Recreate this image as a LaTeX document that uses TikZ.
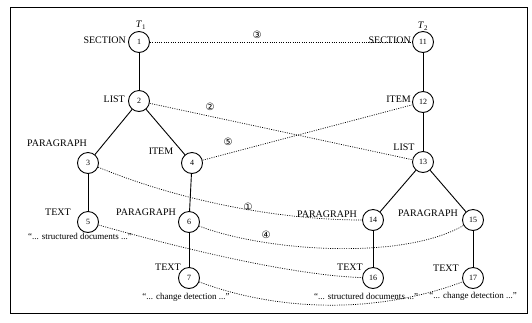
\documentclass[tikz,border=0pt]{standalone}
\usepackage{fontspec}
\setmainfont{Liberation Serif}
\newfontfamily\dejavu{DejaVu Sans}
\begin{document}
\begin{tikzpicture}[x=1pt,y=-1pt,
  tn/.style={circle,draw,line width=0.9pt,minimum size=21pt,inner sep=0pt,font=\fontsize{8}{8}\selectfont},
  lbl/.style={font=\fontsize{10}{10}\selectfont,inner sep=0pt},
  qt/.style={font=\fontsize{9}{10}\selectfont,inner sep=0pt},
  tree/.style={line width=0.9pt},
  match/.style={line width=0.7pt,dash pattern=on 1pt off 1.3pt},
  cn/.style={font=\dejavu\fontsize{10}{10}\selectfont,inner sep=0pt}]
\useasboundingbox (0,0) rectangle (532,322);
\draw[line width=0.8pt] (10,7) rectangle (527,313);
% tree T1
\node[tn] (n1) at (139,42) {1};
\node[tn] (n2) at (139,101) {2};
\node[tn] (n3) at (88,163) {3};
\node[tn] (n4) at (192,163) {4};
\node[tn] (n5) at (88,222) {5};
\node[tn] (n6) at (189,222) {6};
\node[tn] (n7) at (189,278) {7};
% tree T2
\node[tn] (n11) at (423,42) {11};
\node[tn] (n12) at (423,102) {12};
\node[tn] (n13) at (423,162) {13};
\node[tn] (n14) at (373,220) {14};
\node[tn] (n15) at (473,220) {15};
\node[tn] (n16) at (373,278) {16};
\node[tn] (n17) at (473,278) {17};
% labels
\node[lbl] (t1) at (141,25) {\textit{T}\textsubscript{1}};
\node[lbl] (t2) at (423,26) {\textit{T}\textsubscript{2}};
\node[lbl,anchor=east] (l1) at (126,40) {SECTION};
\node[lbl,anchor=east] (l2) at (125,99) {LIST};
\node[lbl] (l3) at (57,143) {PARAGRAPH};
\node[lbl] (l4) at (161,151) {ITEM};
\node[lbl] (l5) at (58,212) {TEXT};
\node[lbl] (l6) at (146,212) {PARAGRAPH};
\node[lbl] (l7) at (168,267) {TEXT};
\node[lbl,anchor=east] (l11) at (411,40) {SECTION};
\node[lbl,anchor=east] (l12) at (411,99) {ITEM};
\node[lbl] (l13) at (404,147) {LIST};
\node[lbl] (l14) at (327,214) {PARAGRAPH};
\node[lbl] (l15) at (428,213) {PARAGRAPH};
\node[lbl] (l16) at (350,267) {TEXT};
\node[lbl] (l17) at (446,268) {TEXT};
% quoted texts
\node[qt] (q5) at (80,236) {“... structured documents ...”};
\node[qt] (q7) at (186,297) {“... change detection ...”};
\node[qt] (q16) at (366,296) {“... structured documents ...”};
\node[qt] (q17) at (473,296) {“... change detection ...”};
% tree edges
\draw[tree] (n1) -- (n2);
\draw[tree] (n2) -- (n3);
\draw[tree] (n2) -- (n4);
\draw[tree,line width=0.6pt] (n3) -- (n5);
\draw[tree] (n4) -- (n6);
\draw[tree,line width=0.6pt] (n6) -- (n7);
\draw[tree] (n11) -- (n12);
\draw[tree] (n12) -- (n13);
\draw[tree] (n13) -- (n14);
\draw[tree] (n13) -- (n15);
\draw[tree,line width=0.6pt] (n14) -- (n16);
\draw[tree] (n15) -- (n17);
% matching
\draw[match] (n1) -- (n11);
\draw[match] (n2) -- (n13);
\draw[match] (n4) -- (n12);
\draw[match] (n3) .. controls (190,205) and (290,220) .. (n14);
\draw[match] (n6) .. controls (260,250) and (400,262) .. (n15);
\draw[match] (n5) .. controls (180,248) and (290,275) .. (n16);
\draw[match] (n7) .. controls (260,305) and (360,320) .. (n17);
% circled numbers
\node[cn] (c3) at (257,35) {③};
\node[cn] (c2) at (210,107) {②};
\node[cn] (c5) at (228,142) {⑤};
\node[cn] (c1) at (248,207) {①};
\node[cn] (c4) at (266,235) {④};
\end{tikzpicture}
\end{document}
